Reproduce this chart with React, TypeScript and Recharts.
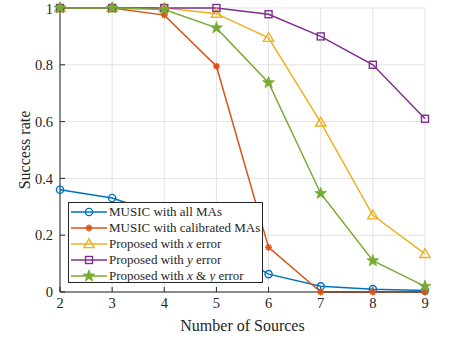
import React from "react";
import { LineChart, Line, XAxis, YAxis, CartesianGrid } from "recharts";

// Number of sources (x axis)
const sources = [2, 3, 4, 5, 6, 7, 8, 9];

// success rates per method
const musicAll = [0.36, 0.331, 0.27, 0.17, 0.063, 0.02, 0.01, 0.005];
const musicCalibrated = [1, 1, 0.975, 0.795, 0.157, 0, 0, 0];
const proposedX = [1, 1, 1, 0.98, 0.895, 0.597, 0.27, 0.134];
const proposedY = [1, 1, 1, 1, 0.978, 0.9, 0.8, 0.61];
const proposedXY = [1, 1, 0.995, 0.93, 0.737, 0.347, 0.11, 0.02];

const xTicks = [2, 3, 4, 5, 6, 7, 8, 9];
const yTicks = [0, 0.2, 0.4, 0.6, 0.8, 1];

const data = sources.map((n, i) => ({
  n,
  musicAll: musicAll[i],
  musicCalibrated: musicCalibrated[i],
  proposedX: proposedX[i],
  proposedY: proposedY[i],
  proposedXY: proposedXY[i],
}));

type Kind = "circle" | "asterisk" | "triangle" | "square" | "star";

const series: { key: string; color: string; kind: Kind; label: React.ReactNode }[] = [
  { key: "musicAll", color: "#0072BD", kind: "circle", label: "MUSIC with all MAs" },
  { key: "musicCalibrated", color: "#D95319", kind: "asterisk", label: "MUSIC with calibrated MAs" },
  {
    key: "proposedX",
    color: "#EDB120",
    kind: "triangle",
    label: (
      <>
        Proposed with <i>x</i> error
      </>
    ),
  },
  {
    key: "proposedY",
    color: "#7E2F8E",
    kind: "square",
    label: (
      <>
        Proposed with <i>y</i> error
      </>
    ),
  },
  {
    key: "proposedXY",
    color: "#77AC30",
    kind: "star",
    label: (
      <>
        Proposed with <i>x</i> &amp; <i>y</i> error
      </>
    ),
  },
];

const FONT = "'Liberation Serif', 'Times New Roman', serif";
const AXIS = "#262626";

function marker(kind: Kind, color: string, cx: number, cy: number, key?: string) {
  switch (kind) {
    case "circle":
      return <circle key={key} cx={cx} cy={cy} r={3.6} fill="none" stroke={color} strokeWidth={1.4} />;
    case "asterisk": {
      const r = 3.4;
      const d = r * 0.72;
      return (
        <g key={key} stroke={color} strokeWidth={1.6}>
          <line x1={cx - r} y1={cy} x2={cx + r} y2={cy} />
          <line x1={cx} y1={cy - r} x2={cx} y2={cy + r} />
          <line x1={cx - d} y1={cy - d} x2={cx + d} y2={cy + d} />
          <line x1={cx - d} y1={cy + d} x2={cx + d} y2={cy - d} />
        </g>
      );
    }
    case "triangle":
      return (
        <polygon
          key={key}
          points={`${cx},${cy - 5.2} ${cx + 5.2},${cy + 3.6} ${cx - 5.2},${cy + 3.6}`}
          fill="none"
          stroke={color}
          strokeWidth={1.4}
        />
      );
    case "square":
      return (
        <rect key={key} x={cx - 3.5} y={cy - 3.5} width={7} height={7} fill="none" stroke={color} strokeWidth={1.4} />
      );
    case "star": {
      const pts: string[] = [];
      for (let i = 0; i < 10; i++) {
        const rad = i % 2 === 0 ? 6.2 : 2.5;
        const a = -Math.PI / 2 + (i * Math.PI) / 5;
        pts.push(`${cx + rad * Math.cos(a)},${cy + rad * Math.sin(a)}`);
      }
      return <polygon key={key} points={pts.join(" ")} fill={color} stroke={color} strokeWidth={0.8} />;
    }
  }
}

const makeDot = (kind: Kind, color: string) => (props: any) =>
  marker(kind, color, props.cx, props.cy, `${kind}-${props.index}`);

const tickStyle = { fill: AXIS, fontSize: 14.5, fontFamily: FONT };

const ChartLegend = () => (
  <div
    style={{
      position: "absolute",
      left: 68,
      top: 202,
      width: 195,
      height: 81,
      border: `1px solid ${AXIS}`,
      background: "#fff",
      fontFamily: FONT,
      fontSize: 13,
      color: AXIS,
      paddingTop: 1,
      boxSizing: "border-box",
    }}
  >
    {series.map((s) => (
      <div key={s.key} style={{ display: "flex", alignItems: "center", height: 16, whiteSpace: "nowrap" }}>
        <svg width={40} height={16} style={{ flex: "none" }}>
          <line x1={2} y1={8} x2={38} y2={8} stroke={s.color} strokeWidth={1.5} />
          {marker(s.kind, s.color, 20, 8)}
        </svg>
        <span style={{ marginLeft: 0 }}>{s.label}</span>
      </div>
    ))}
  </div>
);

const App = () => {
  return (
    <div style={{ position: "absolute", left: 0, top: 0, width: 450, height: 339, background: "#fff" }}>
      <LineChart width={450} height={339} data={data} margin={{ top: 8, right: 25, left: 0, bottom: 0 }}>
        <CartesianGrid stroke="#e3e3e3" strokeWidth={1} />
        <XAxis
          dataKey="n"
          type="number"
          domain={[2, 9]}
          ticks={xTicks}
          height={47}
          stroke={AXIS}
          tickSize={-5}
          tickMargin={11}
          tick={tickStyle}
          label={{
            value: "Number of Sources",
            position: "insideBottom",
            offset: 8,
            style: { fill: AXIS, fontSize: 16, fontFamily: FONT },
          }}
        />
        <XAxis
          xAxisId="top"
          orientation="top"
          dataKey="n"
          type="number"
          domain={[2, 9]}
          ticks={xTicks}
          height={0}
          stroke={AXIS}
          tickSize={-5}
          tickFormatter={() => ""}
        />
        <YAxis
          type="number"
          domain={[0, 1]}
          ticks={yTicks}
          width={60}
          stroke={AXIS}
          tickSize={-5}
          tickMargin={12}
          tick={tickStyle}
          label={(p: any) => {
            const vb = p.viewBox;
            const x = vb.x + 24;
            const y = vb.y + vb.height / 2;
            return (
              <text
                x={x}
                y={y}
                transform={`rotate(-90, ${x}, ${y})`}
                textAnchor="middle"
                dominantBaseline="central"
                fill={AXIS}
                fontSize={16}
                fontFamily={FONT}
              >
                Success rate
              </text>
            );
          }}
        />
        <YAxis
          yAxisId="right"
          orientation="right"
          type="number"
          domain={[0, 1]}
          ticks={yTicks}
          width={0}
          stroke={AXIS}
          tickSize={-5}
          tickFormatter={() => ""}
        />
        {series.map((s) => (
          <Line
            key={s.key}
            type="linear"
            dataKey={s.key}
            stroke={s.color}
            strokeWidth={1.5}
            dot={makeDot(s.kind, s.color)}
            activeDot={false}
            isAnimationActive={false}
          />
        ))}
      </LineChart>
      <ChartLegend />
    </div>
  );
};

export default App;
